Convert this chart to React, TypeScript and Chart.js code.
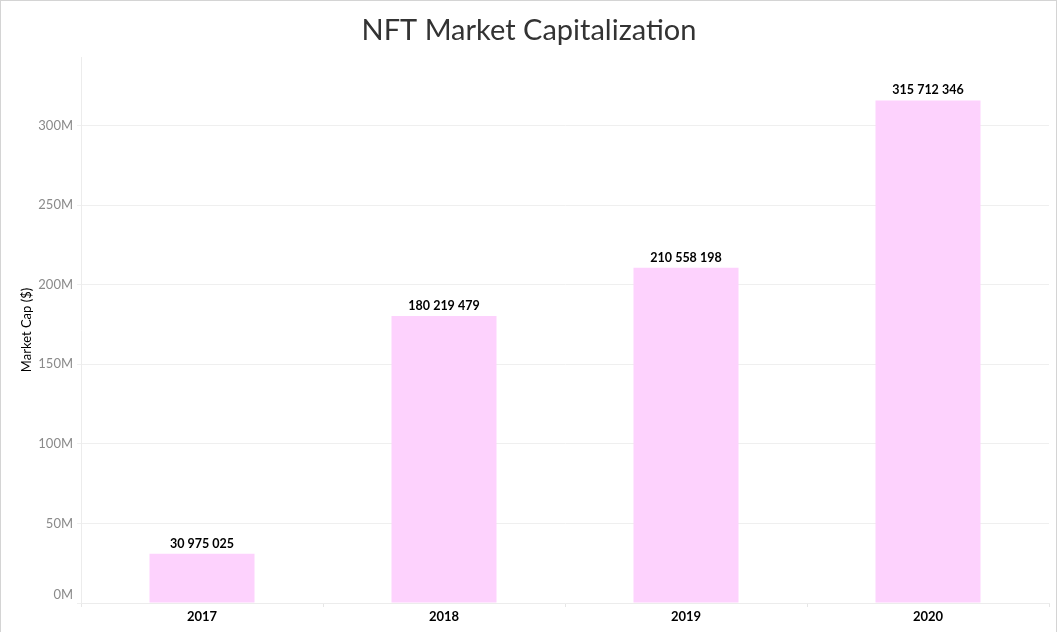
import React, { useEffect, useRef } from "react";
import { Chart, registerables } from "chart.js";

Chart.register(...registerables);

const years = ["2017", "2018", "2019", "2020"];
const marketCap = [30975025, 180219479, 210558198, 315712346];
const yTickValues = [0, 50000000, 100000000, 150000000, 200000000, 250000000, 300000000];
const yMax = 343000000;
const titleText = "NFT Market Capitalization";
const yAxisTitle = "Market Cap ($)";

const FONT = "Lato, 'Open Sans', sans-serif";

function fmtSpaces(v: number): string {
  return String(Math.round(v)).replace(/\B(?=(\d{3})+(?!\d))/g, " ");
}
function fmtM(v: number): string {
  return `${Math.round(v / 1000000)}M`;
}

const decorPlugin = {
  id: "decor",
  beforeDraw(chart: any) {
    const ctx = chart.ctx;
    ctx.save();
    ctx.fillStyle = "#ffffff";
    ctx.fillRect(0, 0, chart.width, chart.height);
    ctx.strokeStyle = "#d4d4d4";
    ctx.lineWidth = 1;
    ctx.strokeRect(0.5, 0.5, 1056, 700);
    ctx.fillStyle = "#333333";
    ctx.font = `29px ${FONT}`;
    ctx.textAlign = "center";
    ctx.textBaseline = "alphabetic";
    ctx.fillText(titleText, 529, 40);
    ctx.restore();
  },
  afterDraw(chart: any) {
    // first y label sits slightly above the baseline, as in the reference
    const ctx = chart.ctx;
    const y = chart.scales.y;
    ctx.save();
    ctx.fillStyle = "#8a8a8a";
    ctx.font = `13px ${FONT}`;
    ctx.textAlign = "right";
    ctx.textBaseline = "middle";
    ctx.fillText(fmtM(yTickValues[0]), y.right - 8, y.getPixelForValue(yTickValues[0]) - 8);
    ctx.restore();
  },
  afterDatasetsDraw(chart: any) {
    const ctx = chart.ctx;
    const meta = chart.getDatasetMeta(0);
    ctx.save();
    ctx.fillStyle = "#000000";
    ctx.font = `bold 12.5px ${FONT}`;
    ctx.textAlign = "center";
    ctx.textBaseline = "alphabetic";
    meta.data.forEach((bar: any, i: number) => {
      ctx.fillText(fmtSpaces(marketCap[i]), bar.x, bar.y - 6);
    });
    ctx.restore();
  },
};

export default function App() {
  const ref = useRef<HTMLCanvasElement | null>(null);
  useEffect(() => {
    document.body.style.margin = "0";
    const canvas = ref.current!;
    const chart = new Chart(canvas, {
      type: "bar",
      data: {
        labels: years,
        datasets: [
          {
            data: marketCap,
            backgroundColor: "#fdd2fd",
            borderWidth: 0,
            categoryPercentage: 1,
            barPercentage: 0.434,
          },
        ],
      },
      plugins: [decorPlugin],
      options: {
        responsive: false,
        animation: false,
        devicePixelRatio: 1,
        layout: { padding: { top: 57, left: 0, right: 9, bottom: 0 } },
        plugins: {
          legend: { display: false },
          title: { display: false },
          tooltip: { enabled: false },
        },
        scales: {
          x: {
            offset: true,
            grid: {
              offset: true,
              drawOnChartArea: false,
              drawTicks: true,
              tickLength: 4,
              color: "#e6e6e6",
            },
            border: { display: true, color: "#ececec" },
            ticks: {
              color: "#000000",
              font: { family: FONT, size: 13, weight: "bold" },
              padding: 2,
            },
            afterFit(scale: any) {
              scale.height = 29;
            },
          },
          y: {
            min: 0,
            max: yMax,
            ticks: {
              color: "#8a8a8a",
              font: { family: FONT, size: 13 },
              padding: 4,
              callback: (v: any) => (Number(v) === yTickValues[0] ? "" : fmtM(Number(v))),
            },
            afterBuildTicks(scale: any) {
              scale.ticks = yTickValues.map((v) => ({ value: v }));
            },
            grid: { color: "#efefef", tickLength: 4 },
            border: { display: true, color: "#ececec" },
            title: {
              display: true,
              text: yAxisTitle,
              color: "#000000",
              font: { family: FONT, size: 13 },
              padding: { top: 19, bottom: 0 },
            },
            afterFit(scale: any) {
              scale.width = 81;
            },
          },
        },
      } as any,
    });
    return () => chart.destroy();
  }, []);
  return <canvas ref={ref} width={1058} height={632} style={{ display: "block" }} />;
}
